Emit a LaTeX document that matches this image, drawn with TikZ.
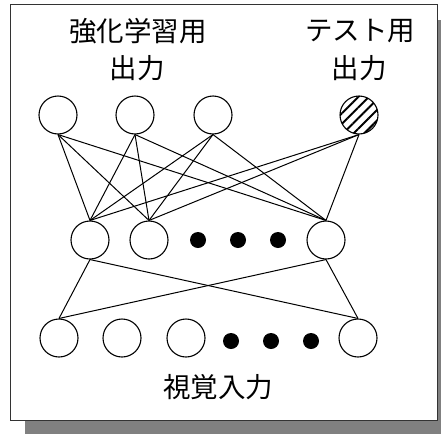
\documentclass[tikz,border=0pt]{standalone}
\usepackage{fontspec}
\newfontfamily\jpfont{Noto Sans CJK JP}
\usetikzlibrary{patterns.meta}
\begin{document}
\begin{tikzpicture}[x=1pt,y=-1pt,
  neuron/.style={circle,draw=black,line width=1.1pt,fill=white,minimum size=38pt,inner sep=0pt},
  dotnode/.style={circle,fill=black,minimum size=16pt,inner sep=0pt},
  hatched/.style={neuron,postaction={pattern={Lines[angle=45,distance=7.5pt,line width=2pt]},pattern color=black}},
  link/.style={line width=1pt,black},
  lbl/.style={font=\jpfont\fontsize{27.5}{30}\selectfont,inner sep=0pt}]
\useasboundingbox (0,0) rectangle (441,434);
\fill[black!50] (25,20) rectangle (441,434);
\filldraw[fill=white,draw=black!80,line width=1pt] (10,4) rectangle (437,420);
% labels
\node[lbl] (t1) at (138,31) {強化学習用};
\node[lbl] (t2) at (137,68) {出力};
\node[lbl] (t3) at (360,31) {テスト用};
\node[lbl] (t4) at (359,68) {出力};
\node[lbl] (t5) at (218,387) {視覚入力};
% top
\node[neuron] (o1) at (58,115) {};
\node[neuron] (o2) at (135,115) {};
\node[neuron] (o3) at (213,115) {};
\node[hatched] (o4) at (359,115) {};
% hidden
\node[neuron] (h1) at (90,240) {};
\node[neuron] (h2) at (149,240) {};
\node[neuron] (h3) at (326,240) {};
\node[dotnode] (hd1) at (198,240) {};
\node[dotnode] (hd2) at (238,240) {};
\node[dotnode] (hd3) at (278,240) {};
% input
\node[neuron] (i1) at (59,338) {};
\node[neuron] (i2) at (122,338) {};
\node[neuron] (i3) at (186,338) {};
\node[neuron] (i4) at (358,338) {};
\node[dotnode] (id1) at (231,341) {};
\node[dotnode] (id2) at (271,341) {};
\node[dotnode] (id3) at (311,341) {};
% links
\foreach \o in {o1,o2,o3,o4}{
  \foreach \h in {h1,h2,h3}{
    \draw[link] (\o.south) -- (\h.north);
  }
}
\foreach \h in {h1,h3}{
  \foreach \i in {i1,i4}{
    \draw[link] (\h.south) -- (\i.north);
  }
}
\end{tikzpicture}
\end{document}
